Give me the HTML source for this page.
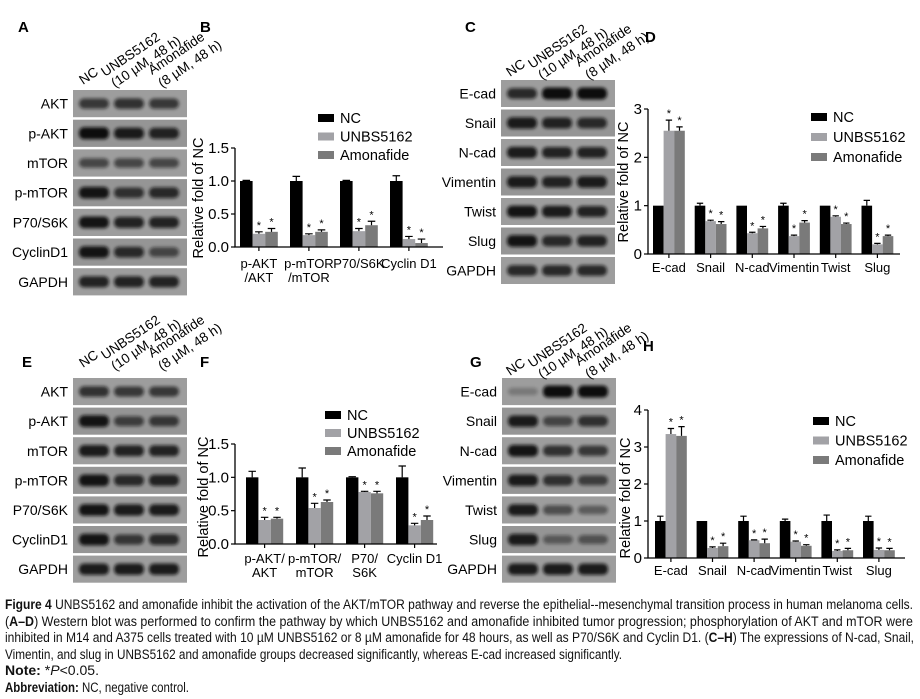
<!DOCTYPE html>
<html><head><meta charset="utf-8">
<style>
html,body{margin:0;padding:0;background:#fff;}
svg{display:block;font-family:"Liberation Sans",sans-serif;}
</style></head>
<body>
<svg id="fig" width="920" height="699" viewBox="0 0 920 699" xmlns="http://www.w3.org/2000/svg">
<defs>
<filter id="blur" x="-30%" y="-80%" width="160%" height="260%"><feGaussianBlur stdDeviation="1.5"/></filter>
</defs>
<g id="blots"></g>
<g id="charts"></g>
<g id="caption" font-size="13.5" fill="#111">
<text x="5" y="609" textLength="908" lengthAdjust="spacingAndGlyphs"><tspan font-weight="bold">Figure 4</tspan> UNBS5162 and amonafide inhibit the activation of the AKT/mTOR pathway and reverse the epithelial--mesenchymal transition process in human melanoma cells.</text>
<text x="5" y="626" textLength="908" lengthAdjust="spacingAndGlyphs">(<tspan font-weight="bold">A–D</tspan>) Western blot was performed to confirm the pathway by which UNBS5162 and amonafide inhibited tumor progression; phosphorylation of AKT and mTOR were</text>
<text x="5" y="642" textLength="909" lengthAdjust="spacingAndGlyphs">inhibited in M14 and A375 cells treated with 10 µM UNBS5162 or 8 µM amonafide for 48 hours, as well as P70/S6K and Cyclin D1. (<tspan font-weight="bold">C–H</tspan>) The expressions of N-cad, Snail,</text>
<text x="5" y="659" textLength="617" lengthAdjust="spacingAndGlyphs">Vimentin, and slug in UNBS5162 and amonafide groups decreased significantly, whereas E-cad increased significantly.</text>
<text x="5" y="675" textLength="94" lengthAdjust="spacingAndGlyphs"><tspan font-weight="bold">Note:</tspan> *<tspan font-style="italic">P</tspan>&lt;0.05.</text>
<text x="5" y="692" textLength="184" lengthAdjust="spacingAndGlyphs"><tspan font-weight="bold">Abbreviation:</tspan> NC, negative control.</text>
</g>
</svg>
<script>
const NS = "http://www.w3.org/2000/svg";
function mk(tag, attrs, parent, txt){
  const e = document.createElementNS(NS, tag);
  for (const k in attrs) e.setAttribute(k, attrs[k]);
  if (txt !== undefined) e.textContent = txt;
  parent.appendChild(e);
  return e;
}
const blotsG = document.getElementById('blots');
const chartsG = document.getElementById('charts');

/* ---------- chart data ---------- */
const seriesNames = ["NC", "UNBS5162", "Amonafide"];
const seriesColors = ["#000000", "#a2a2a6", "#7a7a7a"];

const catsB = [["p-AKT","/AKT"],["p-mTOR","/mTOR"],["P70/S6K"],["Cyclin D1"]];
const ncB = [1, 1, 1, 1];
const ncErrB = [0.01, 0.07, 0.01, 0.08];
const unbsB = [0.20, 0.18, 0.24, 0.12];
const unbsErrB = [0.03, 0.02, 0.04, 0.04];
const amoB = [0.23, 0.23, 0.33, 0.06];
const amoErrB = [0.05, 0.03, 0.06, 0.06];
const ticksB = [0, 0.5, 1.0, 1.5];
const tickLabelsB = ["0.0", "0.5", "1.0", "1.5"];

const catsD = [["E-cad"],["Snail"],["N-cad"],["Vimentin"],["Twist"],["Slug"]];
const ncD = [1, 1, 1, 1, 1, 1];
const ncErrD = [0, 0.05, 0, 0.05, 0, 0.11];
const unbsD = [2.55, 0.68, 0.43, 0.37, 0.77, 0.20];
const unbsErrD = [0.22, 0.02, 0.02, 0.02, 0.02, 0.02];
const amoD = [2.55, 0.62, 0.53, 0.65, 0.62, 0.37];
const amoErrD = [0.08, 0.05, 0.04, 0.04, 0.02, 0.02];
const ticksD = [0, 1, 2, 3];
const tickLabelsD = ["0", "1", "2", "3"];

const catsF = [["p-AKT/","AKT"],["p-mTOR/","mTOR"],["P70/","S6K"],["Cyclin D1"]];
const ncF = [1, 1, 1, 1];
const ncErrF = [0.09, 0.14, 0.01, 0.17];
const unbsF = [0.36, 0.54, 0.78, 0.28];
const unbsErrF = [0.04, 0.07, 0.01, 0.03];
const amoF = [0.38, 0.63, 0.76, 0.36];
const amoErrF = [0.02, 0.03, 0.03, 0.06];
const ticksF = [0, 0.5, 1.0, 1.5];
const tickLabelsF = ["0.0", "0.5", "1.0", "1.5"];

const catsH = [["E-cad"],["Snail"],["N-cad"],["Vimentin"],["Twist"],["Slug"]];
const ncH = [1, 1, 1, 1, 1, 1];
const ncErrH = [0.13, 0, 0.13, 0.05, 0.16, 0.13];
const unbsH = [3.35, 0.27, 0.48, 0.44, 0.19, 0.22];
const unbsErrH = [0.15, 0.03, 0.01, 0.02, 0.03, 0.05];
const amoH = [3.30, 0.32, 0.40, 0.33, 0.21, 0.21];
const amoErrH = [0.25, 0.08, 0.11, 0.03, 0.05, 0.05];
const ticksH = [0, 1, 2, 3, 4];
const tickLabelsH = ["0", "1", "2", "3", "4"];

/* ---------- chart drawing ---------- */
function drawChart(name, cats, vals, errs, ticks, tickLabels, L){
  const g = mk('g', {}, chartsG);
  
  
  const yMax = ticks[ticks.length-1];
  const yScale = v => L.y0 - (v / yMax) * (L.y0 - L.yTop);
  const xBar = (ci, si) => L.x1 + ci * L.pitch + si * L.bw;
  for (let ci = 0; ci < cats.length; ci++){
    for (let si = 0; si < 3; si++){
      const v = vals[si][ci], e = errs[si][ci];
      const x = xBar(ci, si), yt = yScale(v);
      const r = mk('rect', {x: x, y: yt, width: L.bw, height: L.y0 - yt, fill: seriesColors[si]}, g);
      
      
      const ye = yScale(v + e);
      const cx = x + L.bw/2;
      if (e > 0){
        const eb = mk('path', {d: `M${cx},${yt}V${ye}M${cx-L.bw*0.3},${ye}H${cx+L.bw*0.3}`, stroke: '#000', 'stroke-width': 1.2, fill: 'none'}, g);
        
        
      }
      if (si > 0){
        const st = mk('text', {x: cx, y: ye - 3, 'font-size': 11, 'text-anchor': 'middle'}, g, '*');
        
        
      }
    }
  }
  const ax = mk('path', {d: `M${L.x0},${L.yTop}V${L.y0}H${L.xEnd}`, stroke: '#000', 'stroke-width': 1.3, fill: 'none'}, g);
  
  
  for (let i = 0; i < ticks.length; i++){
    const y = yScale(ticks[i]);
    mk('path', {d: `M${L.x0-4},${y}H${L.x0}`, stroke: '#000', 'stroke-width': 1.2}, g);
    const t = mk('text', {x: L.x0 - 6, y: y + 5, 'font-size': 15, 'text-anchor': 'end'}, g, tickLabels[i]);
    
    
  }
  for (let ci = 0; ci < cats.length; ci++){
    const cx = xBar(ci, 0) + L.bw * 1.5;
    mk('path', {d: `M${cx},${L.y0}V${L.y0+4}`, stroke: '#000', 'stroke-width': 1.2}, g);
    cats[ci].forEach((ln, k) => {
      const t = mk('text', {x: cx, y: L.xlab + k*14, 'font-size': 13, 'text-anchor': 'middle'}, g, ln);
      
      
    });
  }
  const yt = mk('text', {x: 0, y: 0, 'font-size': 14.5, 'text-anchor': 'middle', transform: `translate(${L.ytx},${L.yty}) rotate(-90)`}, g, 'Relative fold of NC');
  
  
  for (let si = 0; si < 3; si++){
    const lg = mk('g', {}, g);
    
    
    mk('rect', {x: L.lx, y: L.ly + si*L.lstep - 4, width: 16, height: 8, fill: seriesColors[si]}, lg);
    mk('text', {x: L.lx + 22, y: L.ly + si*L.lstep + 5, 'font-size': 14.5}, lg, seriesNames[si]);
  }
}

drawChart('chart-b', catsB, [ncB, unbsB, amoB], [ncErrB, unbsErrB, amoErrB], ticksB, tickLabelsB,
  {x0:235, y0:247, yTop:148, xEnd:443, x1:240, pitch:50, bw:12.6, xlab:268, ytx:203, yty:198, lx:318, ly:118, lstep:18.5});
drawChart('chart-d', catsD, [ncD, unbsD, amoD], [ncErrD, unbsErrD, amoErrD], ticksD, tickLabelsD,
  {x0:648, y0:254, yTop:109, xEnd:900, x1:653, pitch:41.7, bw:10.6, xlab:272, ytx:628, yty:182, lx:811, ly:117, lstep:20});
drawChart('chart-f', catsF, [ncF, unbsF, amoF], [ncErrF, unbsErrF, amoErrF], ticksF, tickLabelsF,
  {x0:235, y0:544, yTop:444, xEnd:437, x1:246, pitch:50, bw:12.4, xlab:563, ytx:208, yty:497, lx:325, ly:415, lstep:18});
drawChart('chart-h', catsH, [ncH, unbsH, amoH], [ncErrH, unbsErrH, amoErrH], ticksH, tickLabelsH,
  {x0:648, y0:558, yTop:410, xEnd:905, x1:655, pitch:41.6, bw:10.6, xlab:575, ytx:630, yty:498, lx:813, ly:421, lstep:19.5});

/* ---------- western blots ---------- */
const rowsA = ["AKT","p-AKT","mTOR","p-mTOR","P70/S6K","CyclinD1","GAPDH"];
const intA = [[0.7,0.75,0.7],[1,0.9,0.85],[0.6,0.6,0.6],[0.95,0.75,0.8],[0.95,0.85,0.85],[0.95,0.8,0.6],[0.85,0.85,0.85]];
const rowsC = ["E-cad","Snail","N-cad","Vimentin","Twist","Slug","GAPDH"];
const intC = [[0.8,1,1],[0.9,0.85,0.8],[0.9,0.85,0.85],[0.9,0.85,0.9],[0.95,0.9,0.85],[0.95,0.8,0.85],[0.8,0.8,0.8]];
const intE = [[0.75,0.7,0.7],[0.95,0.65,0.7],[0.9,0.85,0.85],[0.95,0.8,0.85],[0.95,0.9,0.9],[0.95,0.7,0.8],[0.9,0.9,0.9]];
const intG = [[0.25,1,1],[0.9,0.6,0.75],[0.95,0.75,0.7],[0.9,0.75,0.65],[0.9,0.55,0.45],[0.9,0.45,0.5],[0.9,0.9,0.9]];

function drawBlot(name, label, lx, ly, rows, ints, x, y, pitch, hx, hy){
  const g = mk('g', {}, blotsG);
  
  
  const pl = mk('text', {x: lx, y: ly, 'font-size': 15, 'font-weight': 'bold'}, g, label);
  
  
  const W = 114, H = pitch - 2.5;
  const lanes = [x+21, x+56, x+91];
  rows.forEach((r, i) => {
    const ry = y + i*pitch;
    const strip = mk('rect', {x: x, y: ry, width: W, height: H, fill: i % 2 ? '#959595' : '#9d9d9d'}, g);
    
    
    lanes.forEach((cx, j) => {
      const v = ints[i][j];
      mk('rect', {x: cx - 15, y: ry + H/2 - 3 - v*3, width: 30, height: 6 + v*6, rx: 5, fill: '#111', opacity: v, filter: 'url(#blur)'}, g);
    });
    const t = mk('text', {x: x - 5, y: ry + H/2 + 5, 'font-size': 14, 'text-anchor': 'end'}, g, r);
    
    
  });
  const hdr = [["NC", 0, 0], ["UNBS5162", 22, -8], ["(10 µM, 48 h)", 32, 3], ["Amonafide", 69, -10], ["(8 µM, 48 h)", 79, 3]];
  hdr.forEach(h => {
    const t = mk('text', {x: 0, y: 0, 'font-size': 13.5, transform: `translate(${hx + h[1]},${hy + h[2]}) rotate(-34)`}, g, h[0]);
    
    
  });
}
drawBlot('blot-a', 'A', 18, 32, rowsA, intA, 73, 90, 29.7, 83, 85);
drawBlot('blot-c', 'C', 465, 32, rowsC, intC, 501, 80, 29.5, 510, 77);
drawBlot('blot-e', 'E', 22, 367, rowsA, intE, 73, 378, 29.6, 83, 368);
drawBlot('blot-g', 'G', 470, 367, rowsC, intG, 502, 378, 29.6, 510, 376);
const lb = mk('text', {x: 200, y: 32, 'font-size': 15, 'font-weight': 'bold'}, chartsG, 'B');


const ld = mk('text', {x: 645, y: 42, 'font-size': 15, 'font-weight': 'bold'}, chartsG, 'D');


const lf = mk('text', {x: 200, y: 367, 'font-size': 15, 'font-weight': 'bold'}, chartsG, 'F');


const lh = mk('text', {x: 643, y: 351, 'font-size': 15, 'font-weight': 'bold'}, chartsG, 'H');


</script>
</body></html>
